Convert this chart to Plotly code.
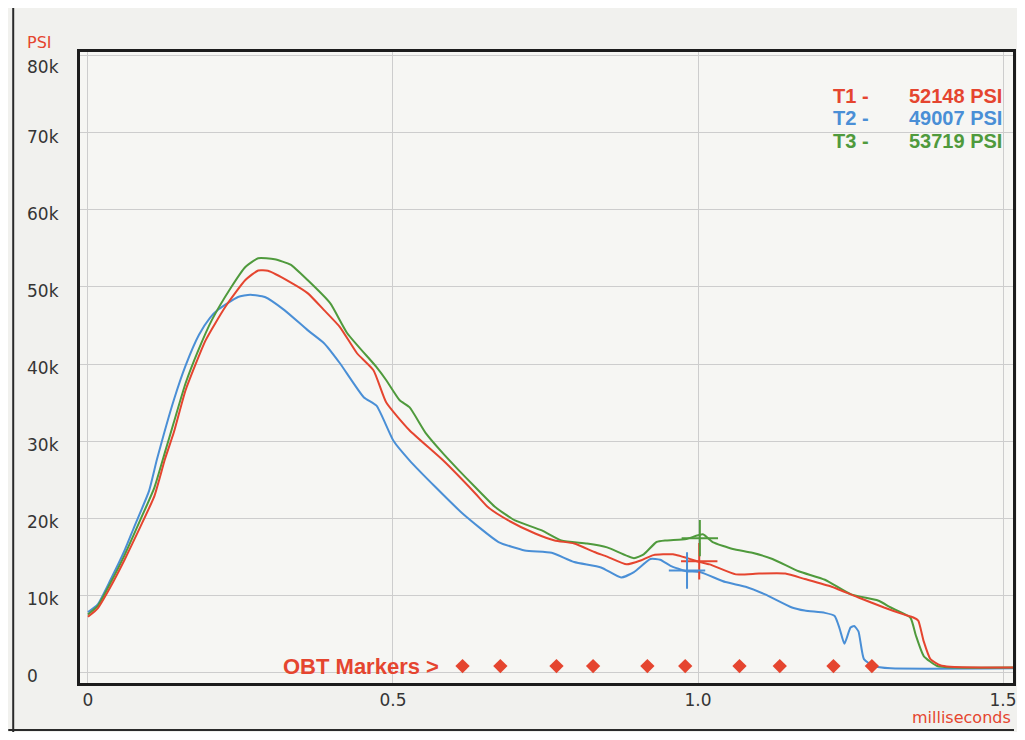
import plotly.graph_objects as go

# ---------------- data (time in milliseconds, pressure in PSI) ----------------
t1_time = [0, 0.016, 0.037, 0.06, 0.086, 0.109, 0.126, 0.141, 0.16, 0.193, 0.225, 0.258,
           0.279, 0.295, 0.332, 0.36, 0.387, 0.413, 0.441, 0.468, 0.489, 0.527, 0.582,
           0.635, 0.656, 0.689, 0.733, 0.765, 0.797, 0.83, 0.851, 0.883, 0.906, 0.927,
           0.959, 1.003, 1.019, 1.062, 1.1, 1.143, 1.175, 1.219, 1.263, 1.305, 1.337,
           1.353, 1.361, 1.37, 1.381, 1.397, 1.413, 1.478, 1.52]
t1_psi = [7200, 8300, 11100, 14600, 18900, 22900, 27600, 31200, 36600, 43100, 47400, 50900,
          52148, 52100, 50600, 49200, 47000, 44800, 41400, 39200, 35000, 31400, 27500,
          23200, 21400, 19700, 18000, 17100, 16700, 15600, 15000, 14000, 14500, 15200,
          15300, 14300, 14000, 12700, 12800, 12800, 12100, 11100, 9700, 8400, 7500,
          7100, 6700, 4000, 1700, 900, 700, 600, 600]

t2_time = [0, 0.016, 0.037, 0.06, 0.076, 0.1, 0.113, 0.141, 0.16, 0.182, 0.2, 0.214, 0.246,
           0.266, 0.29, 0.322, 0.36, 0.387, 0.413, 0.452, 0.473, 0.501, 0.527, 0.57,
           0.614, 0.673, 0.716, 0.76, 0.797, 0.841, 0.874, 0.895, 0.922, 0.938, 0.955,
           0.981, 1.003, 1.045, 1.078, 1.11, 1.154, 1.175, 1.208, 1.224, 1.232, 1.24,
           1.25, 1.256, 1.263, 1.272, 1.288, 1.316, 1.52]
t2_psi = [7800, 8800, 12000, 15800, 18900, 23500, 27600, 35400, 39800, 43800, 46000, 47100, 48700,
          49007, 48700, 47000, 44400, 42700, 40100, 35700, 34600, 30000, 27500, 24000,
          20600, 16900, 15800, 15500, 14300, 13600, 12300, 13000, 14700, 14600, 13800,
          13100, 13000, 11700, 11100, 10100, 8400, 8000, 7700, 7300, 5700, 3700,
          5800, 6000, 5300, 1700, 800, 500, 500]

t3_time = [0, 0.016, 0.037, 0.06, 0.086, 0.109, 0.126, 0.141, 0.16, 0.182, 0.203, 0.235,
           0.258, 0.279, 0.306, 0.332, 0.36, 0.397, 0.425, 0.473, 0.489, 0.511, 0.527,
           0.554, 0.582, 0.608, 0.635, 0.668, 0.7, 0.744, 0.776, 0.818, 0.851, 0.895,
           0.911, 0.932, 0.948, 0.981, 1.008, 1.024, 1.057, 1.089, 1.122, 1.165, 1.208,
           1.251, 1.295, 1.316, 1.348, 1.357, 1.37, 1.392, 1.42, 1.52]
t3_psi = [7500, 8600, 11600, 15200, 19800, 24000, 28500, 32500, 37500, 42000, 45700, 50000,
          52600, 53719, 53600, 52900, 50900, 47900, 44000, 39600, 37900, 35300, 34400,
          31000, 28400, 26200, 24000, 21400, 19700, 18400, 17100, 16700, 16200, 14800,
          15300, 16900, 17100, 17300, 17900, 16900, 16000, 15500, 14700, 13100, 12000,
          10100, 9300, 8400, 7100, 4800, 2100, 800, 600, 600]

series_names = ["T1", "T2", "T3"]
series_peaks = [52148, 49007, 53719]

# cursor crosses (time, PSI)
cursor_time = [1.002, 0.982, 1.003]
cursor_psi = [14400, 13200, 17400]

# OBT markers
obt_time = [0.614, 0.676, 0.768, 0.828, 0.917, 0.979, 1.068, 1.134, 1.222, 1.285]
obt_level = 800

x_tick_vals = [0, 0.5, 1.0, 1.5]
x_tick_text = ["0", "0.5", "1.0", "1.5"]
y_tick_vals = [0, 10000, 20000, 30000, 40000, 50000, 60000, 70000, 80000]
y_tick_text = ["0", "10k", "20k", "30k", "40k", "50k", "60k", "70k", "80k"]

# ---------------- style ----------------
RED = "#e5452f"
BLUE = "#4a8fd6"
GREEN = "#4f9a3c"
TXT = "#353535"
colors = [RED, BLUE, GREEN]

OFF = 8                      # page body margin of the browser
VIS_W = 1017                 # visible page width
W, H = VIS_W - OFF, 740 - 2 * OFF
ML, MR, MT = 80 - OFF, 1, 52 - OFF
MB = H - MT - 631
PW, PH = W - ML - MR, H - MT - MB
X0_PX = 8                    # time 0 sits 8 px right of the plot's left edge
SCALE = 612.0                # px per millisecond
x_range = [-X0_PX / SCALE, (PW - X0_PX) / SCALE]


def px_to_paper_x(px):       # px measured on the page
    return (px - OFF - ML) / PW


def px_to_paper_y(py):
    return (H - MB - (py - OFF)) / PH


fig = go.Figure()

data = {"T1": (t1_time, t1_psi), "T2": (t2_time, t2_psi), "T3": (t3_time, t3_psi)}
for name in ["T2", "T3", "T1"]:
    i = series_names.index(name)
    tx, ty = data[name]
    fig.add_trace(go.Scatter(x=tx, y=ty, mode="lines", name=name,
                             line=dict(color=colors[i], width=2, shape="spline",
                                       smoothing=0.5),
                             showlegend=False))

# OBT markers
fig.add_trace(go.Scatter(x=obt_time, y=[obt_level] * len(obt_time), mode="markers",
                         marker=dict(symbol="diamond", size=11, color=RED),
                         showlegend=False))

# cursor crosses
for i in range(3):
    fig.add_trace(go.Scatter(x=[cursor_time[i]], y=[cursor_psi[i]], mode="markers",
                             marker=dict(symbol="cross-thin", size=26,
                                         line=dict(width=2, color=colors[i])),
                             showlegend=False))

annotations = []
# y tick labels (left aligned as in the reference)
for v, txt in zip(y_tick_vals, y_tick_text):
    annotations.append(dict(x=px_to_paper_x(25), xref="paper", y=v, yref="y",
                            text=txt, showarrow=False, xanchor="left", yanchor="middle",
                            yshift=-11 if v == 80000 else -4,
                            font=dict(family="DejaVu Sans", size=17, color=TXT)))
# unit labels
annotations.append(dict(x=px_to_paper_x(25), xref="paper", y=px_to_paper_y(42), yref="paper",
                        text="PSI", showarrow=False, xanchor="left", yanchor="middle",
                        font=dict(family="DejaVu Sans", size=16, color=RED)))
annotations.append(dict(x=px_to_paper_x(1016), xref="paper", y=px_to_paper_y(717), yref="paper",
                        text="milliseconds", showarrow=False, xanchor="right", yanchor="middle",
                        font=dict(family="DejaVu Sans", size=16, color=RED)))
# legend values
leg_y = [96, 118, 141]
for i in range(3):
    annotations.append(dict(x=px_to_paper_x(833), xref="paper", y=px_to_paper_y(leg_y[i]),
                            yref="paper", text="<b>%s -</b>" % series_names[i], showarrow=False,
                            xanchor="left", yanchor="middle",
                            font=dict(family="Liberation Sans", size=20, color=colors[i])))
    annotations.append(dict(x=px_to_paper_x(1007), xref="paper", y=px_to_paper_y(leg_y[i]),
                            yref="paper", text="<b>%d PSI</b>" % series_peaks[i],
                            showarrow=False, xanchor="right", yanchor="middle",
                            font=dict(family="Liberation Sans", size=20, color=colors[i])))
# OBT label
annotations.append(dict(x=obt_time[0], xref="x", y=obt_level, yref="y", xshift=-22,
                        text="<b>OBT Markers &gt;</b>", showarrow=False, xanchor="right",
                        yanchor="middle",
                        font=dict(family="Liberation Sans", size=22, color=RED)))

shapes = [
    # scan / window edges outside the plot
    dict(type="line", xref="paper", yref="paper", x0=px_to_paper_x(13), x1=px_to_paper_x(13),
         y0=px_to_paper_y(OFF), y1=px_to_paper_y(732), line=dict(color="#2a2a2a", width=2)),
    dict(type="line", xref="paper", yref="paper", x0=px_to_paper_x(OFF), x1=px_to_paper_x(VIS_W),
         y0=px_to_paper_y(730), y1=px_to_paper_y(730), line=dict(color="#2a2a2a", width=2)),
]

fig.update_layout(
    width=W, height=H,
    margin=dict(l=ML, r=MR, t=MT, b=MB, pad=0),
    paper_bgcolor="#f1f1ee",
    plot_bgcolor="#f6f6f3",
    annotations=annotations,
    shapes=shapes,
    xaxis=dict(range=x_range, tickvals=x_tick_vals, ticktext=x_tick_text,
               showgrid=True, gridcolor="#cdcdcd", gridwidth=1, zeroline=False,
               showline=True, linecolor="#1c1c1c", linewidth=3, mirror=True, ticks="",
               tickfont=dict(family="DejaVu Sans", size=17, color=TXT)),
    yaxis=dict(range=[-1400, 80500], tickvals=y_tick_vals, showticklabels=False,
               showgrid=True, gridcolor="#cdcdcd", gridwidth=1, zeroline=False,
               showline=True, linecolor="#1c1c1c", linewidth=3, mirror=True, ticks=""),
)

fig.write_html("out.html")
